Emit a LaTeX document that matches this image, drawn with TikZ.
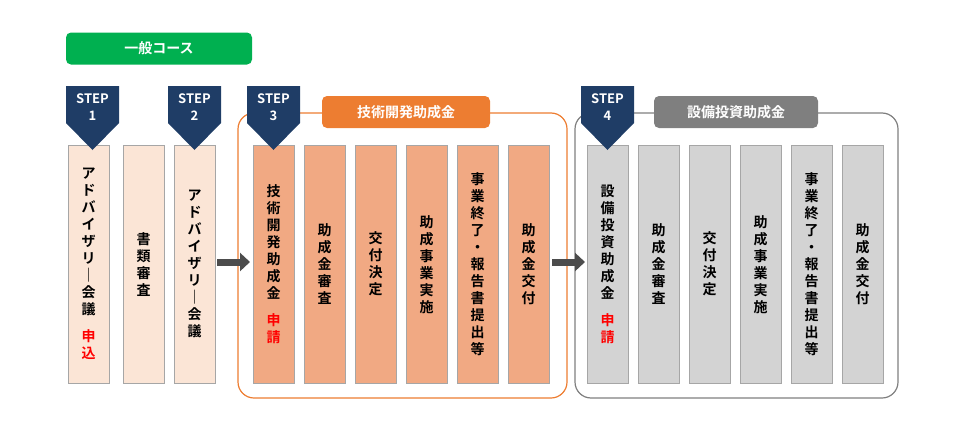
\documentclass[tikz,border=0pt]{standalone}
\usepackage{fontspec}
\setmainfont{Noto Sans CJK JP}[BoldFont={* Bold}]
\usepackage{tikz}
\usetikzlibrary{positioning,arrows.meta}
\definecolor{navy}{HTML}{1F3D66}
\definecolor{peach}{HTML}{FBE5D6}
\definecolor{salmon}{HTML}{F1A983}
\definecolor{frameor}{HTML}{ED7D31}
\definecolor{lgray}{HTML}{D3D3D3}
\definecolor{dgray}{HTML}{7F7F7F}
\definecolor{green}{HTML}{00B050}
\newcommand{\stepbadge}[3]{% x, number, name
  \fill[navy] (#1,86) -- ++(53,0) -- ++(0,37) -- ++(-26.5,27) -- ++(-26.5,-27) -- cycle;
  \node[badge] (#3) at (#1+26.5,107) {STEP\\#2};}
\tikzset{
  col/.style = {draw = gray!70, minimum width = 41, minimum height = 238, anchor = north west,
                inner sep = 0pt, align = center, font = \bfseries\fontsize{14}{17}\selectfont},
  peachcol/.style = {col, fill = peach},
  orcol/.style = {col, fill = salmon},
  graycol/.style = {col, fill = lgray},
  badge/.style = {text = white, align = center, font = \bfseries\fontsize{13}{17}\selectfont},
  tag/.style = {rounded corners = 5, text = white, font = \bfseries\fontsize{14}{16}\selectfont,
                minimum height = 32, inner sep = 0pt},
  flow/.style = {draw = black!70, line width = 7, -{Triangle[length=10, width=18]}}
}
\begin{document}
\begin{tikzpicture}[x = 1pt, y = -1pt]
\useasboundingbox (0,0) rectangle (980,439);
% course label
\node[tag, fill = green, minimum width = 186] (course) at (159,48.5) {一般コース};
% group frames
\draw[frameor, line width = 1.2, rounded corners = 16] (238,113) rectangle (567,398);
\draw[dgray, line width = 1.2, rounded corners = 16] (575,113) rectangle (898,398);
% columns
\node[peachcol] (adv1) at (68,145) {ア\\ド\\バ\\イ\\ザ\\リ\\｜\\会\\議\\[10pt]\textcolor{red}{申}\\\textcolor{red}{込}};
\node[peachcol] (doc) at (123,145) {書\\類\\審\\査};
\node[peachcol] (adv2) at (174,145) {ア\\ド\\バ\\イ\\ザ\\リ\\｜\\会\\議};
\node[orcol] (tapp) at (253,145) {技\\術\\開\\発\\助\\成\\金\\[10pt]\textcolor{red}{申}\\\textcolor{red}{請}};
\node[orcol] (trev) at (304,145) {助\\成\\金\\審\\査};
\node[orcol] (tdec) at (355,145) {交\\付\\決\\定};
\node[orcol] (timp) at (406,145) {助\\成\\事\\業\\実\\施};
\node[orcol] (trep) at (457,145) {事\\業\\終\\了\\・\\報\\告\\書\\提\\出\\等};
\node[orcol] (tpay) at (508,145) {助\\成\\金\\交\\付};
\node[graycol] (eapp) at (587,145) {設\\備\\投\\資\\助\\成\\金\\[10pt]\textcolor{red}{申}\\\textcolor{red}{請}};
\node[graycol] (erev) at (638,145) {助\\成\\金\\審\\査};
\node[graycol] (edec) at (689,145) {交\\付\\決\\定};
\node[graycol] (eimp) at (740,145) {助\\成\\事\\業\\実\\施};
\node[graycol] (erep) at (791,145) {事\\業\\終\\了\\・\\報\\告\\書\\提\\出\\等};
\node[graycol] (epay) at (842,145) {助\\成\\金\\交\\付};
% group tags
\node[tag, fill = frameor, minimum width = 168] (ttag) at (406,112) {技術開発助成金};
\node[tag, fill = dgray, minimum width = 164] (etag) at (736,112) {設備投資助成金};
% steps
\stepbadge{66}{1}{s1}
\stepbadge{168}{2}{s2}
\stepbadge{247}{3}{s3}
\stepbadge{581}{4}{s4}
% flow arrows
\coordinate (a1) at (adv2.east |- 0,262);
\coordinate (a2) at (tpay.east |- 0,262);
\draw[flow] ([xshift = 2]a1) -- ([xshift = -3]tapp.west |- a1);
\draw[flow] ([xshift = 3]a2) -- ([xshift = -2]eapp.west |- a2);
\end{tikzpicture}
\end{document}
